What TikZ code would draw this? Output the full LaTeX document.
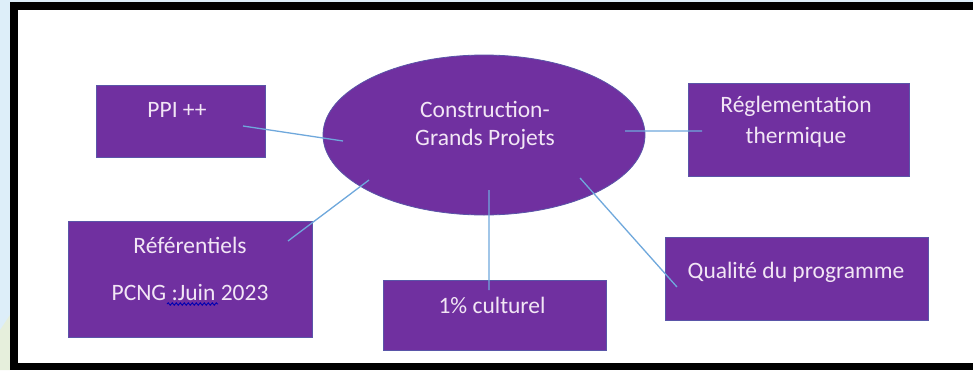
\documentclass[tikz,border=0pt]{standalone}
\usepackage{fontspec}
\setmainfont{Carlito}
\usepackage{tikz}
\usetikzlibrary{shapes.geometric,decorations.pathmorphing}
\definecolor{violet}{HTML}{7030A0}
\definecolor{edge}{HTML}{5A55A8}
\definecolor{link}{HTML}{6FA8DC}
\definecolor{label}{HTML}{F2E6F5}
\definecolor{sky}{HTML}{DDEEF9}
\definecolor{moss}{HTML}{E6EFDC}

\begin{document}
\begin{tikzpicture}[x=1pt, y=-1pt,
    box/.style={rectangle, fill=violet, draw=edge, line width=0.8pt, inner sep=0pt},
    txt/.style={text=label, align=center, font=\fontsize{23.5}{28}\selectfont, inner sep=0pt},
    link/.style={draw=link, line width=1.3pt}]
    \useasboundingbox (0,0) rectangle (973,370);
    % page behind the frame
    \fill[sky] (0,0) rectangle (973,370);
    \fill[moss] (0,330) -- (10,315) -- (10,370) -- (0,370) -- cycle;
    \fill[black] (10,2) rectangle (973,370);
    \fill[white] (18,10) rectangle (973,363);

    \node[box, ellipse, minimum width=322, minimum height=160](hub) at (484,135) {};
    \node[box, minimum width=169, minimum height=72](ppi) at (180.5,121) {};
    \node[box, minimum width=244, minimum height=116](ref) at (190,279) {};
    \node[box, minimum width=223, minimum height=70](cult) at (494.5,315) {};
    \node[box, minimum width=221, minimum height=93](regl) at (798.5,129.5) {};
    \node[box, minimum width=263, minimum height=83](qual) at (796.5,278.5) {};

    \node[txt](hubt) at (485,125) {Construction-\\Grands Projets};
    \node[txt](ppit) at (177,110) {PPI ++};
    \node[txt](reft) at (190,269) {Référentiels\\[19pt]PCNG :Juin 2023};
    \node[txt](cultt) at (492,305) {1\% culturel};
    \node[txt](reglt) at (796,122) {Réglementation\\[3pt]thermique};
    \node[txt](qualt) at (796,272) {Qualité du programme};

    \coordinate(hub1) at (343,141);
    \coordinate(hub2) at (369,180);
    \coordinate(hub3) at (489,190);
    \coordinate(hub4) at (625,131);
    \coordinate(hub5) at (580,178);
    \coordinate(ppi1) at (243,126);
    \coordinate(ref1) at (288,241);
    \coordinate(cult1) at (489,290);
    \coordinate(regl1) at (702,131);
    \coordinate(qual1) at (677,287);

    \draw[link] (ppi1) -- (hub1)
                (ref1) -- (hub2)
                (cult1) -- (hub3)
                (regl1) -- (hub4)
                (qual1) -- (hub5);

    % spell-check mark
    \coordinate(sp1) at (167,304);
    \coordinate(sp2) at (218,304);
    \draw[blue!70!black, line width=0.9pt, decorate,
          decoration={snake, amplitude=1.2pt, segment length=4pt}] (sp1) -- (sp2);
  \end{tikzpicture}
\end{document}
